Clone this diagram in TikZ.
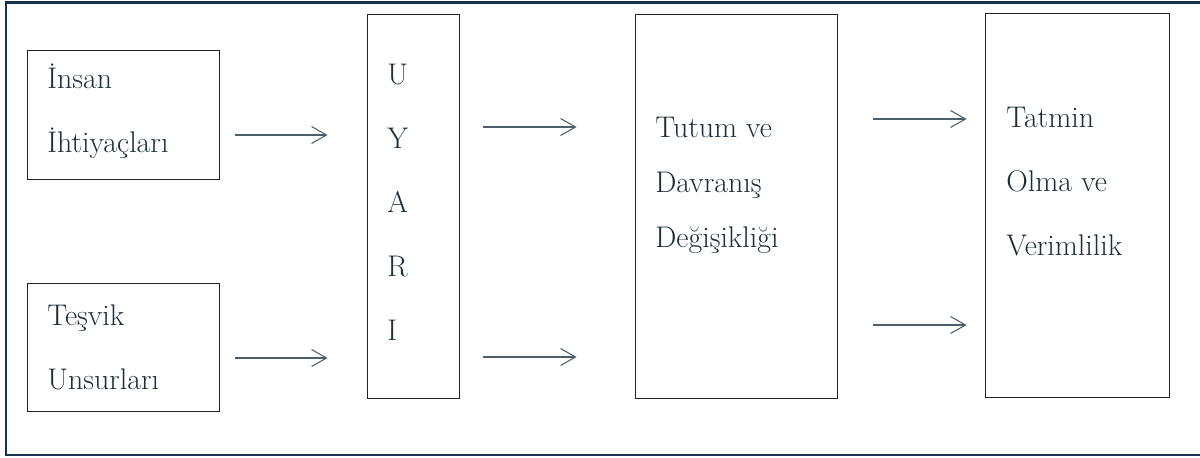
\documentclass[tikz,border=0pt]{standalone}
\usepackage{fontspec}
\usetikzlibrary{arrows.meta}

\definecolor{inkcol}{HTML}{1B2E3B}
\definecolor{framecol}{HTML}{17324A}
\definecolor{arrowcol}{HTML}{4B5E69}
\definecolor{boxcol}{HTML}{222222}

\begin{document}
\begin{tikzpicture}[x=0.02cm, y=-0.02cm,
    box/.style={draw=boxcol, line width=0.5pt, inner sep=0pt},
    txt/.style={anchor=base west, inner sep=0pt, align=left, text=inkcol,
        font=\fontsize{17pt}{36.4pt}\selectfont},
    arr/.style={-{Straight Barb[length=0.3cm, width=0.34cm]}, draw=arrowcol, line width=0.6pt}]
    \useasboundingbox (0,0) rectangle (1200,457);

    % outer frame, open on the right
    \draw [framecol, line width=1.2pt] (1200,2.5) -- (6,2.5) -- (6,455) -- (1200,455);

    \node (insan) at (123,114.5) [box, minimum width=3.84cm, minimum height=2.58cm] {};
    \node (tesvik) at (123,347) [box, minimum width=3.84cm, minimum height=2.56cm] {};
    \node (uyari) at (413,206) [box, minimum width=1.84cm, minimum height=7.68cm] {};
    \node (tutum) at (736,206) [box, minimum width=4.04cm, minimum height=7.68cm] {};
    \node (tatmin) at (1077,205) [box, minimum width=3.68cm, minimum height=7.68cm] {};

    % text nodes sit on the baseline of their last line
    \node (insantxt) at (47,152) [txt] {İnsan\\İhtiyaçları};
    \node (tesviktxt) at (47,389) [txt] {Teşvik\\Unsurları};
    \node (uyaritxt) at (387,340) [txt] {U\\Y\\A\\R\\I};
    \node (tutumtxt) at (655,247) [txt, font=\fontsize{17pt}{31.3pt}\selectfont] {Tutum ve\\Davranış\\Değişikliği};
    \node (tatmintxt) at (1006,255) [txt] {Tatmin\\Olma ve\\Verimlilik};

    \draw [arr, shorten <=0.32cm, shorten >=0.78cm] (insan.east |- 0,135) -- (uyari.west |- 0,135);
    \draw [arr, shorten <=0.32cm, shorten >=0.78cm] (tesvik.east |- 0,358) -- (uyari.west |- 0,358);
    \draw [arr, shorten <=0.48cm, shorten >=1.16cm] (uyari.east |- 0,127) -- (tutum.west |- 0,127);
    \draw [arr, shorten <=0.48cm, shorten >=1.16cm] (uyari.east |- 0,357) -- (tutum.west |- 0,357);
    \draw [arr, shorten <=0.72cm, shorten >=0.36cm] (tutum.east |- 0,119) -- (tatmin.west |- 0,119);
    \draw [arr, shorten <=0.72cm, shorten >=0.36cm] (tutum.east |- 0,325) -- (tatmin.west |- 0,325);
\end{tikzpicture}
\end{document}
